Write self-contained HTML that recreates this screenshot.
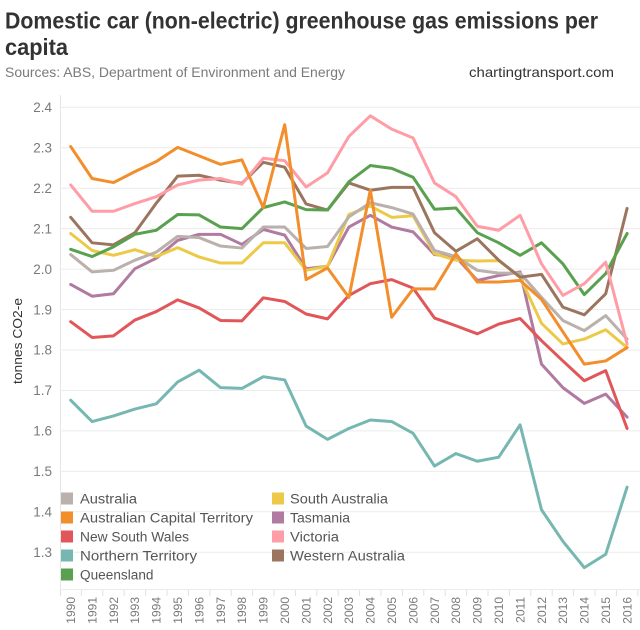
<!DOCTYPE html>
<html>
<head>
<meta charset="utf-8">
<style>
  html,body{margin:0;padding:0;background:#fff;}
  svg{display:block;}
  text{font-family:"Liberation Sans", sans-serif;}
</style>
</head>
<body>
<svg width="640" height="630" viewBox="0 0 640 630" xmlns="http://www.w3.org/2000/svg">
  <rect x="0" y="0" width="640" height="630" fill="#fff"/>

  <!-- Title -->
  <text x="5" y="28.5" font-size="23" font-weight="bold" fill="#333" textLength="593" lengthAdjust="spacingAndGlyphs">Domestic car (non-electric) greenhouse gas emissions per</text>
  <text x="5" y="55" font-size="23" font-weight="bold" fill="#333" textLength="63" lengthAdjust="spacingAndGlyphs">capita</text>
  <text x="5" y="77" font-size="14" fill="#7a7a7a" textLength="340" lengthAdjust="spacingAndGlyphs">Sources: ABS, Department of Environment and Energy</text>
  <text x="469" y="77" font-size="14" fill="#333" textLength="145" lengthAdjust="spacingAndGlyphs">chartingtransport.com</text>

  <!-- Gridlines -->
  <g stroke="#ececec" stroke-width="1">
    <line x1="60" x2="640" y1="107.3" y2="107.3"/>
    <line x1="60" x2="640" y1="147.75" y2="147.75"/>
    <line x1="60" x2="640" y1="188.2" y2="188.2"/>
    <line x1="60" x2="640" y1="228.65" y2="228.65"/>
    <line x1="60" x2="640" y1="269.1" y2="269.1"/>
    <line x1="60" x2="640" y1="309.55" y2="309.55"/>
    <line x1="60" x2="640" y1="350" y2="350"/>
    <line x1="60" x2="640" y1="390.45" y2="390.45"/>
    <line x1="60" x2="640" y1="430.9" y2="430.9"/>
    <line x1="60" x2="640" y1="471.35" y2="471.35"/>
    <line x1="60" x2="640" y1="511.8" y2="511.8"/>
    <line x1="60" x2="640" y1="552.25" y2="552.25"/>
  </g>
  <!-- axes -->
  <line x1="60.5" x2="60.5" y1="95" y2="590" stroke="#e6e6e6" stroke-width="1"/>
  <line x1="60" x2="640" y1="589.5" y2="589.5" stroke="#ececec" stroke-width="1"/>
  <g stroke="#e0e0e0" stroke-width="1">
    <line x1="60.5" x2="60.5" y1="590" y2="596"/>
    <line x1="81.4" x2="81.4" y1="590" y2="596"/>
    <line x1="102.8" x2="102.8" y1="590" y2="596"/>
    <line x1="124.2" x2="124.2" y1="590" y2="596"/>
    <line x1="145.6" x2="145.6" y1="590" y2="596"/>
    <line x1="167" x2="167" y1="590" y2="596"/>
    <line x1="188.4" x2="188.4" y1="590" y2="596"/>
    <line x1="209.8" x2="209.8" y1="590" y2="596"/>
    <line x1="231.2" x2="231.2" y1="590" y2="596"/>
    <line x1="252.6" x2="252.6" y1="590" y2="596"/>
    <line x1="274" x2="274" y1="590" y2="596"/>
    <line x1="295.4" x2="295.4" y1="590" y2="596"/>
    <line x1="316.8" x2="316.8" y1="590" y2="596"/>
    <line x1="338.2" x2="338.2" y1="590" y2="596"/>
    <line x1="359.6" x2="359.6" y1="590" y2="596"/>
    <line x1="381" x2="381" y1="590" y2="596"/>
    <line x1="402.4" x2="402.4" y1="590" y2="596"/>
    <line x1="423.8" x2="423.8" y1="590" y2="596"/>
    <line x1="445.2" x2="445.2" y1="590" y2="596"/>
    <line x1="466.6" x2="466.6" y1="590" y2="596"/>
    <line x1="488" x2="488" y1="590" y2="596"/>
    <line x1="509.4" x2="509.4" y1="590" y2="596"/>
    <line x1="530.8" x2="530.8" y1="590" y2="596"/>
    <line x1="552.2" x2="552.2" y1="590" y2="596"/>
    <line x1="573.6" x2="573.6" y1="590" y2="596"/>
    <line x1="595" x2="595" y1="590" y2="596"/>
    <line x1="616.4" x2="616.4" y1="590" y2="596"/>
    <line x1="637.8" x2="637.8" y1="590" y2="596"/>
  </g>

  <!-- Y tick labels -->
  <g font-size="13.5" fill="#7a7a7a" text-anchor="end">
    <text x="52" y="112">2.4</text>
    <text x="52" y="152.5">2.3</text>
    <text x="52" y="193">2.2</text>
    <text x="52" y="233.4">2.1</text>
    <text x="52" y="273.8">2.0</text>
    <text x="52" y="314.3">1.9</text>
    <text x="52" y="354.7">1.8</text>
    <text x="52" y="395.2">1.7</text>
    <text x="52" y="435.6">1.6</text>
    <text x="52" y="476.1">1.5</text>
    <text x="52" y="516.5">1.4</text>
    <text x="52" y="557">1.3</text>
  </g>

  <!-- Y axis title -->
  <text transform="translate(22,341) rotate(-90)" text-anchor="middle" font-size="12.5" fill="#333" textLength="86" lengthAdjust="spacingAndGlyphs">tonnes CO2-e</text>

  <!-- X labels -->
  <g font-size="12" fill="#7a7a7a" text-anchor="end">
    <text transform="translate(75,597) rotate(-90)">1990</text>
    <text transform="translate(96.4,597) rotate(-90)">1991</text>
    <text transform="translate(117.8,597) rotate(-90)">1992</text>
    <text transform="translate(139.2,597) rotate(-90)">1993</text>
    <text transform="translate(160.6,597) rotate(-90)">1994</text>
    <text transform="translate(182,597) rotate(-90)">1995</text>
    <text transform="translate(203.4,597) rotate(-90)">1996</text>
    <text transform="translate(224.8,597) rotate(-90)">1997</text>
    <text transform="translate(246.2,597) rotate(-90)">1998</text>
    <text transform="translate(267.6,597) rotate(-90)">1999</text>
    <text transform="translate(289,597) rotate(-90)">2000</text>
    <text transform="translate(310.4,597) rotate(-90)">2001</text>
    <text transform="translate(331.8,597) rotate(-90)">2002</text>
    <text transform="translate(353.2,597) rotate(-90)">2003</text>
    <text transform="translate(374.6,597) rotate(-90)">2004</text>
    <text transform="translate(396,597) rotate(-90)">2005</text>
    <text transform="translate(417.4,597) rotate(-90)">2006</text>
    <text transform="translate(438.8,597) rotate(-90)">2007</text>
    <text transform="translate(460.2,597) rotate(-90)">2008</text>
    <text transform="translate(481.6,597) rotate(-90)">2009</text>
    <text transform="translate(503,597) rotate(-90)">2010</text>
    <text transform="translate(524.4,597) rotate(-90)">2011</text>
    <text transform="translate(545.8,597) rotate(-90)">2012</text>
    <text transform="translate(567.2,597) rotate(-90)">2013</text>
    <text transform="translate(588.6,597) rotate(-90)">2014</text>
    <text transform="translate(610,597) rotate(-90)">2015</text>
    <text transform="translate(631.4,597) rotate(-90)">2016</text>
  </g>

  <!-- Data lines: x = year index, y = value -->
  <g transform="translate(70.7,1078.1) scale(21.4,-404.5)" fill="none" stroke-width="3" stroke-linejoin="round" stroke-linecap="round">
    <!-- Tasmania -->
    <polyline vector-effect="non-scaling-stroke" stroke="#b07aa1" points="0,1.962 1,1.933 2,1.939 3,2.001 4,2.027 5,2.071 6,2.086 7,2.086 8,2.061 9,2.098 10,2.084 11,2.001 12,2.007 13,2.104 14,2.133 15,2.104 16,2.092 17,2.036 18,2.030 19,1.972 20,1.984 21,1.993 22,1.765 23,1.707 24,1.668 25,1.691 26,1.634"/>
    <!-- South Australia -->
    <polyline vector-effect="non-scaling-stroke" stroke="#edc948" points="0,2.088 1,2.046 2,2.034 3,2.048 4,2.031 5,2.053 6,2.030 7,2.015 8,2.015 9,2.065 10,2.065 11,1.997 12,2.007 13,2.135 14,2.156 15,2.128 16,2.132 17,2.038 18,2.022 19,2.020 20,2.021 21,1.980 22,1.866 23,1.815 24,1.827 25,1.850 26,1.806"/>
    <!-- Australia -->
    <polyline vector-effect="non-scaling-stroke" stroke="#bab0ac" points="0,2.036 1,1.993 2,1.997 3,2.022 4,2.042 5,2.081 6,2.078 7,2.057 8,2.052 9,2.104 10,2.104 11,2.051 12,2.056 13,2.129 14,2.164 15,2.152 16,2.136 17,2.046 18,2.031 19,1.997 20,1.990 21,1.990 22,1.930 23,1.873 24,1.848 25,1.885 26,1.827"/>
    <!-- Western Australia -->
    <polyline vector-effect="non-scaling-stroke" stroke="#9c755f" points="0,2.128 1,2.065 2,2.060 3,2.090 4,2.163 5,2.230 6,2.232 7,2.220 8,2.212 9,2.264 10,2.252 11,2.161 12,2.146 13,2.213 14,2.195 15,2.202 16,2.202 17,2.090 18,2.044 19,2.075 20,2.022 21,1.980 22,1.987 23,1.906 24,1.887 25,1.939 26,2.150"/>
    <!-- Queensland -->
    <polyline vector-effect="non-scaling-stroke" stroke="#59a14f" points="0,2.049 1,2.031 2,2.055 3,2.086 4,2.096 5,2.135 6,2.134 7,2.104 8,2.100 9,2.152 10,2.166 11,2.147 12,2.146 13,2.216 14,2.256 15,2.249 16,2.227 17,2.148 18,2.151 19,2.090 20,2.065 21,2.034 22,2.065 23,2.013 24,1.937 25,1.989 26,2.088"/>
    <!-- Victoria -->
    <polyline vector-effect="non-scaling-stroke" stroke="#ff9da7" points="0,2.208 1,2.143 2,2.143 3,2.162 4,2.179 5,2.208 6,2.220 7,2.224 8,2.210 9,2.274 10,2.268 11,2.203 12,2.238 13,2.328 14,2.379 15,2.346 16,2.324 17,2.213 18,2.179 19,2.106 20,2.096 21,2.133 22,2.013 23,1.935 24,1.964 25,2.017 26,1.815"/>
    <!-- New South Wales -->
    <polyline vector-effect="non-scaling-stroke" stroke="#e15759" points="0,1.870 1,1.831 2,1.835 3,1.874 4,1.895 5,1.924 6,1.904 7,1.873 8,1.872 9,1.929 10,1.920 11,1.889 12,1.877 13,1.935 14,1.964 15,1.974 16,1.953 17,1.879 18,1.860 19,1.840 20,1.864 21,1.878 22,1.823 23,1.773 24,1.724 25,1.749 26,1.606"/>
    <!-- Northern Territory -->
    <polyline vector-effect="non-scaling-stroke" stroke="#76b7b2" points="0,1.676 1,1.623 2,1.637 3,1.654 4,1.667 5,1.721 6,1.750 7,1.707 8,1.705 9,1.734 10,1.726 11,1.612 12,1.579 13,1.606 14,1.627 15,1.623 16,1.594 17,1.513 18,1.544 19,1.525 20,1.535 21,1.615 22,1.405 23,1.327 24,1.262 25,1.295 26,1.461"/>
    <!-- ACT -->
    <polyline vector-effect="non-scaling-stroke" stroke="#f28e2b" points="0,2.303 1,2.224 2,2.214 3,2.241 4,2.266 5,2.301 6,2.280 7,2.259 8,2.270 9,2.152 10,2.357 11,1.974 12,2.003 13,1.930 14,2.195 15,1.881 16,1.951 17,1.951 18,2.038 19,1.968 20,1.968 21,1.972 22,1.925 23,1.845 24,1.765 25,1.773 26,1.806"/>
  </g>

  <!-- Legend -->
  <g>
    <rect x="61" y="492.5" width="12" height="12" fill="#bab0ac"/>
    <rect x="61" y="511.5" width="12" height="12" fill="#f28e2b"/>
    <rect x="61" y="530.5" width="12" height="12" fill="#e15759"/>
    <rect x="61" y="549.5" width="12" height="12" fill="#76b7b2"/>
    <rect x="61" y="568.5" width="12" height="12" fill="#59a14f"/>
    <rect x="272" y="492.5" width="12" height="12" fill="#edc948"/>
    <rect x="272" y="511.5" width="12" height="12" fill="#b07aa1"/>
    <rect x="272" y="530.5" width="12" height="12" fill="#ff9da7"/>
    <rect x="272" y="549.5" width="12" height="12" fill="#9c755f"/>
  </g>
  <g font-size="13.5" fill="#555" lengthAdjust="spacingAndGlyphs">
    <text x="80" y="503.3" textLength="57" lengthAdjust="spacingAndGlyphs">Australia</text>
    <text x="80" y="522.3" textLength="173" lengthAdjust="spacingAndGlyphs">Australian Capital Territory</text>
    <text x="80" y="541.3" textLength="109" lengthAdjust="spacingAndGlyphs">New South Wales</text>
    <text x="80" y="560.3" textLength="117" lengthAdjust="spacingAndGlyphs">Northern Territory</text>
    <text x="80" y="579.3" textLength="73.5" lengthAdjust="spacingAndGlyphs">Queensland</text>
    <text x="290" y="503.3" textLength="98" lengthAdjust="spacingAndGlyphs">South Australia</text>
    <text x="290" y="522.3" textLength="60" lengthAdjust="spacingAndGlyphs">Tasmania</text>
    <text x="290" y="541.3" textLength="49" lengthAdjust="spacingAndGlyphs">Victoria</text>
    <text x="290" y="560.3" textLength="115" lengthAdjust="spacingAndGlyphs">Western Australia</text>
  </g>
</svg>
</body>
</html>
